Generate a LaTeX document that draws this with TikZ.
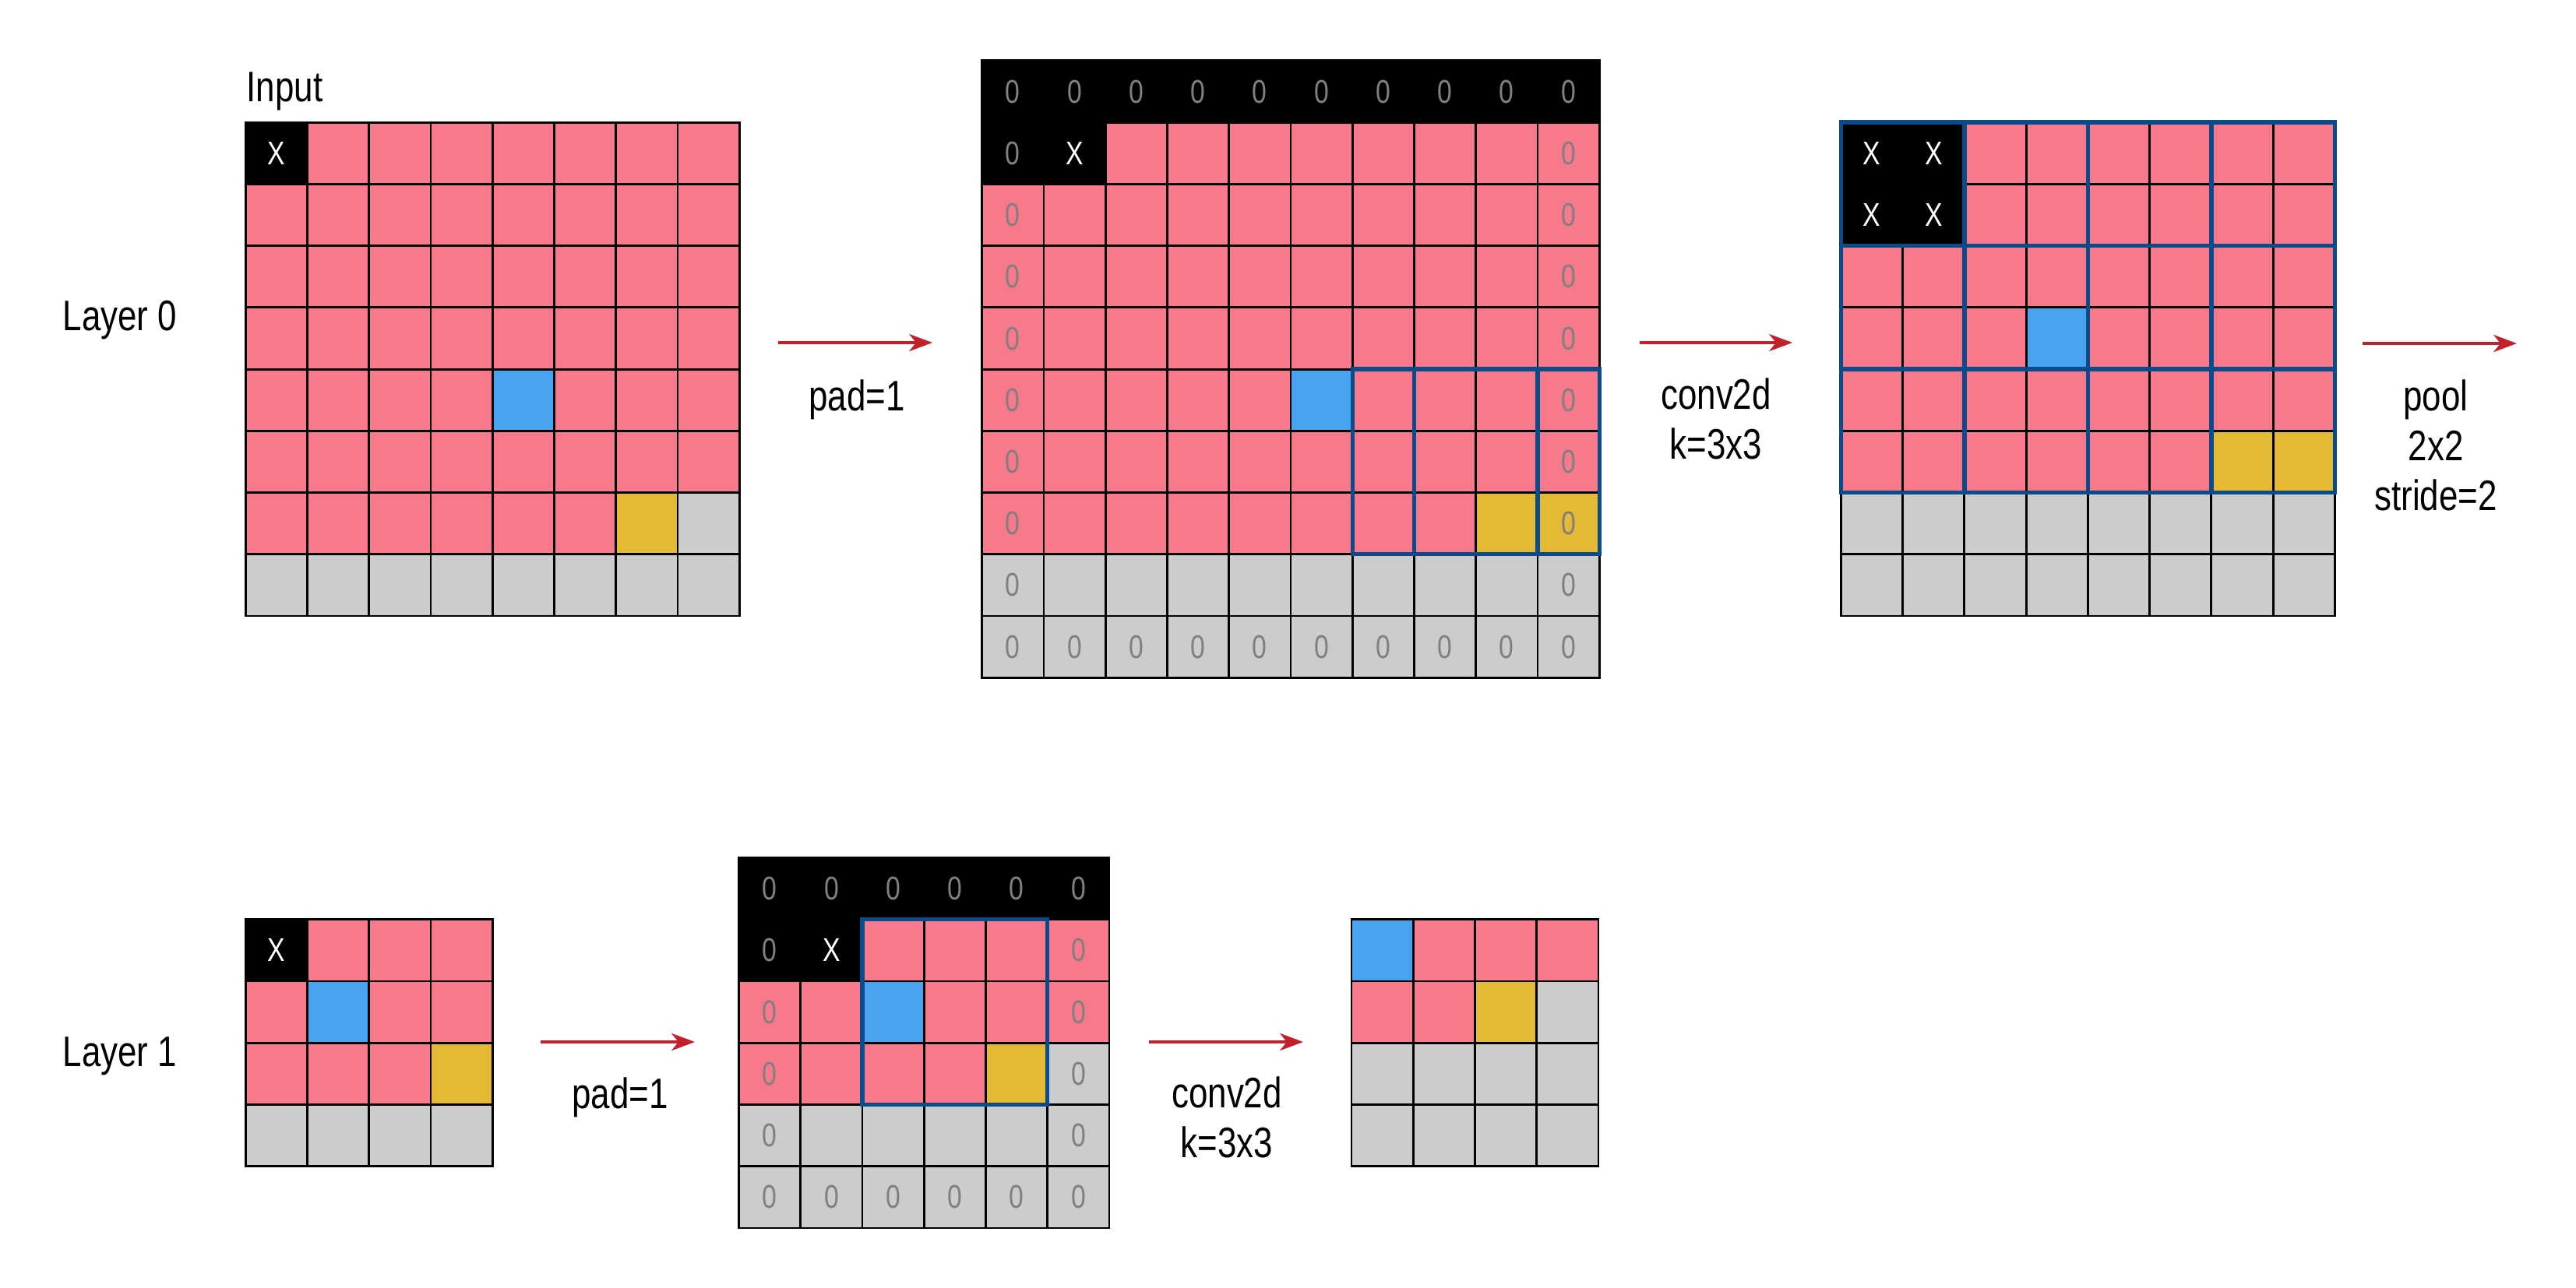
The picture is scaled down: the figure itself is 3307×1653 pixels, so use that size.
\documentclass[tikz,border=0pt]{standalone}
\usepackage{fontspec}
\setmainfont{Liberation Sans}[FakeStretch=0.8]
\usetikzlibrary{arrows.meta}
\definecolor{cpink}{RGB}{247,121,139}
\definecolor{cblue}{RGB}{72,163,240}
\definecolor{cgold}{RGB}{228,186,52}
\definecolor{cgray}{RGB}{204,204,204}
\definecolor{cwin}{RGB}{10,75,140}
\definecolor{cred}{RGB}{194,32,42}
\definecolor{czero}{RGB}{128,128,128}
\tikzset{
  lab/.style={font=\fontsize{15.6pt}{18pt}\selectfont, inner sep=0pt},
  cellx/.style={text=white, font=\fontsize{12pt}{14pt}\selectfont, inner sep=0pt},
  cellz/.style={text=czero, font=\fontsize{12pt}{14pt}\selectfont, inner sep=0pt},
  gline/.style={line width=0.8pt, draw=black, line cap=rect},
  wline/.style={line width=1.5pt, draw=cwin, line cap=rect},
  arr/.style={draw=cred, line width=0.9pt, -{Stealth[length=8.5pt,width=6.3pt,inset=2.5pt]}},
}
\begin{document}
\begin{tikzpicture}[x=0.01cm, y=-0.01cm]
\useasboundingbox (0,0) rectangle (3307,1653);

% ---------- labels ----------
\node[lab, anchor=base west] (tinput) at (316,130) {Input};
\node[lab, anchor=base west] (tlayer0) at (80,424) {Layer 0};
\node[lab, anchor=base west] (tlayer1) at (80,1369) {Layer 1};
\node[lab, anchor=base] (tpad1) at (1100,527) {pad=1};
\node[lab, anchor=base] (tconv1) at (2203,525) {conv2d};
\node[lab, anchor=base] (tk1) at (2203,589) {k=3x3};
\node[lab, anchor=base] (tpool) at (3127,527) {pool};
\node[lab, anchor=base] (tpoolk) at (3127,591) {2x2};
\node[lab, anchor=base] (tstride) at (3127,655) {stride=2};
\node[lab, anchor=base] (tpad2) at (796,1423) {pad=1};
\node[lab, anchor=base] (tconv2) at (1575,1422) {conv2d};
\node[lab, anchor=base] (tk2) at (1575,1486) {k=3x3};

% ---------- arrows ----------
\coordinate (a1s) at (999,440);  \coordinate (a1e) at (1197,440);
\coordinate (a2s) at (2105,440); \coordinate (a2e) at (2301,440);
\coordinate (a3s) at (3033,441); \coordinate (a3e) at (3231,441);
\coordinate (b1s) at (694,1338); \coordinate (b1e) at (892,1338);
\coordinate (b2s) at (1475,1338); \coordinate (b2e) at (1673,1338);
\draw[arr] (a1s) -- (a1e);
\draw[arr] (a2s) -- (a2e);
\draw[arr] (a3s) -- (a3e);
\draw[arr] (b1s) -- (b1e);
\draw[arr] (b2s) -- (b2e);

% ---------- Input 8x8 ----------
\begin{scope}[xshift=3.15cm, yshift=-1.57cm, x=0.792cm, y=-0.792cm]
  \fill[cpink] (0,0) rectangle (8,7);
  \fill[cgray] (0,7) rectangle (8,8);
  \fill[black] (0,0) rectangle (1,1);
  \fill[cblue] (4,4) rectangle (5,5);
  \fill[cgold] (6,6) rectangle (7,7);
  \fill[cgray] (7,6) rectangle (8,7);
  \foreach \i in {0,...,8} {\draw[gline] (\i,0) -- (\i,8); \draw[gline] (0,\i) -- (8,\i);}
  \node[cellx] (gAx) at (0.5,0.5) {X};
\end{scope}

% ---------- Padded 10x10 ----------
\begin{scope}[xshift=12.60cm, yshift=-0.778cm, x=0.792cm, y=-0.792cm]
  \fill[cpink] (0,1) rectangle (10,8);
  \fill[cgray] (0,8) rectangle (10,10);
  \fill[black] (0,0) rectangle (10,1);
  \fill[black] (0,1) rectangle (2,2);
  \fill[cblue] (5,5) rectangle (6,6);
  \fill[cgold] (8,7) rectangle (10,8);
  \foreach \i in {0,...,10} {\draw[gline] (\i,0) -- (\i,10); \draw[gline] (0,\i) -- (10,\i);}
  \draw[wline] (6,5) rectangle (9,8);
  \draw[wline] (7,5) rectangle (10,8);
  \foreach \c in {0,...,9} {
    \node[cellz] (gBt\c) at (\c+0.5,0.5) {0};
    \node[cellz] (gBb\c) at (\c+0.5,9.5) {0};
  }
  \foreach \r in {1,...,8} {
    \node[cellz] (gBl\r) at (0.5,\r+0.5) {0};
    \node[cellz] (gBr\r) at (9.5,\r+0.5) {0};
  }
  \node[cellx] (gBx) at (1.5,1.5) {X};
\end{scope}

% ---------- Conv result 8x8 ----------
\begin{scope}[xshift=23.62cm, yshift=-1.57cm, x=0.792cm, y=-0.792cm]
  \fill[cpink] (0,0) rectangle (8,6);
  \fill[cgray] (0,6) rectangle (8,8);
  \fill[black] (0,0) rectangle (2,2);
  \fill[cblue] (3,3) rectangle (4,4);
  \fill[cgold] (6,5) rectangle (8,6);
  \foreach \i in {0,...,8} {\draw[gline] (\i,0) -- (\i,8); \draw[gline] (0,\i) -- (8,\i);}
  \foreach \i in {0,2,4,6,8} {\draw[wline] (\i,0) -- (\i,6);}
  \foreach \j in {0,2,4,6} {\draw[wline] (0,\j) -- (8,\j);}
  \node[cellx] (gCx1) at (0.5,0.5) {X};
  \node[cellx] (gCx2) at (1.5,0.5) {X};
  \node[cellx] (gCx3) at (0.5,1.5) {X};
  \node[cellx] (gCx4) at (1.5,1.5) {X};
\end{scope}

% ---------- Layer 1 input 4x4 ----------
\begin{scope}[xshift=3.15cm, yshift=-11.80cm, x=0.792cm, y=-0.792cm]
  \fill[cpink] (0,0) rectangle (4,3);
  \fill[cgray] (0,3) rectangle (4,4);
  \fill[black] (0,0) rectangle (1,1);
  \fill[cblue] (1,1) rectangle (2,2);
  \fill[cgold] (3,2) rectangle (4,3);
  \foreach \i in {0,...,4} {\draw[gline] (\i,0) -- (\i,4); \draw[gline] (0,\i) -- (4,\i);}
  \node[cellx] (gDx) at (0.5,0.5) {X};
\end{scope}

% ---------- Layer 1 padded 6x6 ----------
\begin{scope}[xshift=9.48cm, yshift=-11.008cm, x=0.792cm, y=-0.792cm]
  \fill[cpink] (0,1) rectangle (6,4);
  \fill[cgray] (0,4) rectangle (6,6);
  \fill[black] (0,0) rectangle (6,1);
  \fill[black] (0,1) rectangle (2,2);
  \fill[cblue] (2,2) rectangle (3,3);
  \fill[cgold] (4,3) rectangle (5,4);
  \fill[cgray] (5,3) rectangle (6,4);
  \foreach \i in {0,...,6} {\draw[gline] (\i,0) -- (\i,6); \draw[gline] (0,\i) -- (6,\i);}
  \draw[wline] (2,1) rectangle (5,4);
  \foreach \c in {0,...,5} {
    \node[cellz] (gEt\c) at (\c+0.5,0.5) {0};
    \node[cellz] (gEb\c) at (\c+0.5,5.5) {0};
  }
  \foreach \r in {1,...,4} {
    \node[cellz] (gEl\r) at (0.5,\r+0.5) {0};
    \node[cellz] (gEr\r) at (5.5,\r+0.5) {0};
  }
  \node[cellx] (gEx) at (1.5,1.5) {X};
\end{scope}

% ---------- Layer 1 result 4x4 ----------
\begin{scope}[xshift=17.34cm, yshift=-11.80cm, x=0.792cm, y=-0.792cm]
  \fill[cpink] (0,0) rectangle (4,2);
  \fill[cgray] (0,2) rectangle (4,4);
  \fill[cblue] (0,0) rectangle (1,1);
  \fill[cgold] (2,1) rectangle (3,2);
  \fill[cgray] (3,1) rectangle (4,2);
  \foreach \i in {0,...,4} {\draw[gline] (\i,0) -- (\i,4); \draw[gline] (0,\i) -- (4,\i);}
\end{scope}
\end{tikzpicture}
\end{document}
